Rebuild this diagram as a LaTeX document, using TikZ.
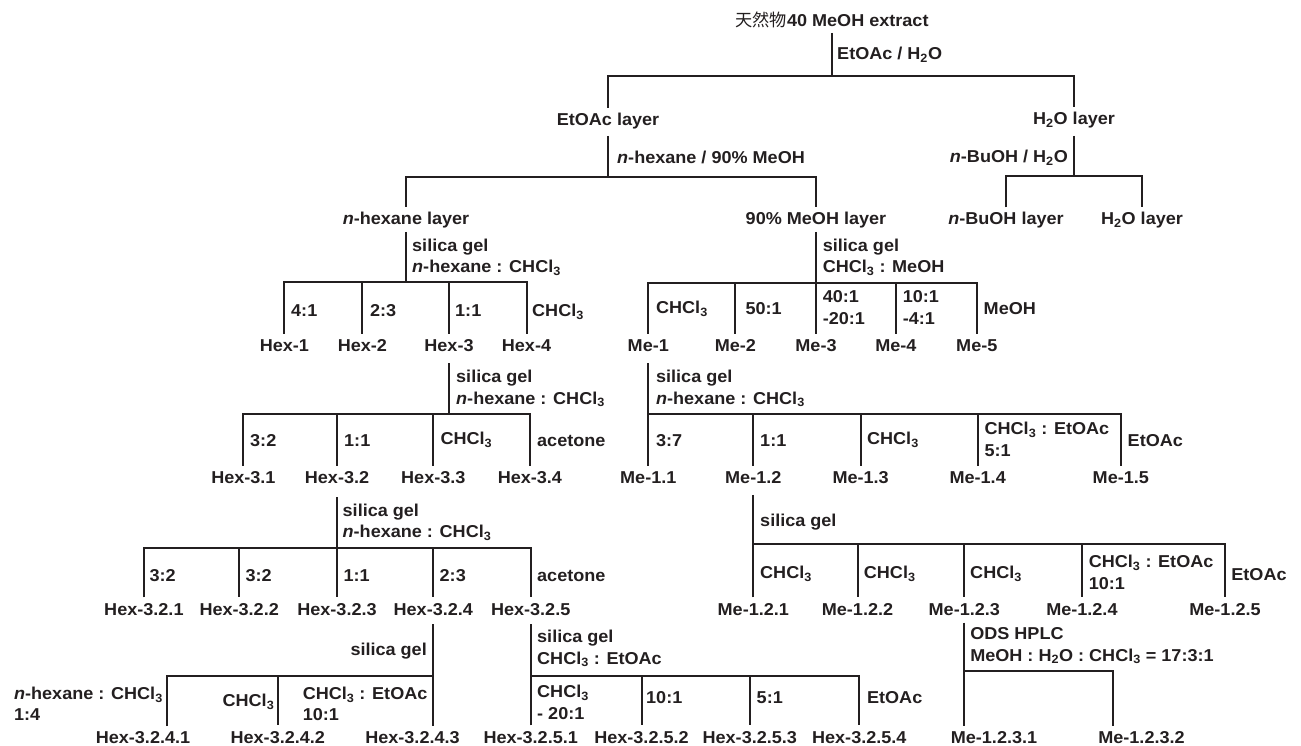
\documentclass[tikz,border=0pt]{standalone}
\usepackage{fontspec}
\setmainfont{Liberation Sans}[FakeStretch=1.05]
\newfontfamily\cjk{Noto Sans CJK SC}
\definecolor{ink}{RGB}{35,31,32}
\begin{document}
\begin{tikzpicture}[x=1pt,y=-1pt,
  txt/.style={font=\fontsize{17.2}{21.5}\selectfont\bfseries, text=ink, inner sep=0pt},
  item/.style={txt, text height=12.5pt, text depth=0pt, anchor=base},
  note/.style={txt, align=left},
  link/.style={draw=ink, line width=2pt, line join=miter},
]
\useasboundingbox (0,0) rectangle (1301,746);

% ---- level 0
\node[item] (T) at (832,26.5) {{\cjk\mdseries 天然物}40 MeOH extract};
\coordinate (s0) at (832,76);
\node[item] (E) at (608,125.5) {EtOAc layer};
\node[item] (W) at (1074,124.5) {H\textsubscript{2}O layer};
\node[note,anchor=base west] (l0) at (837,59.5) {EtOAc / H\textsubscript{2}O};
\draw[link] ([yshift=-6.5pt]T.base) -- (s0);
\draw[link] ([yshift=5pt]E.north) |- (s0) -| ([yshift=5pt]W.north);

% ---- level 1
\coordinate (s1) at (608,177);
\node[item] (NH) at (406,224.5) {\textit{n}-hexane layer};
\node[item] (MM) at (816,224.5) {90\% MeOH layer};
\node[note,anchor=base west] (l1) at (617,163.5) {\textit{n}-hexane / 90\% MeOH};
\draw[link] ([yshift=-10.5pt]E.base) -- (s1);
\draw[link] ([yshift=5pt]NH.north) |- (s1) -| ([yshift=5pt]MM.north);

\coordinate (s2) at (1074,176);
\node[item] (NB) at (1006,225) {\textit{n}-BuOH layer};
\node[item] (HW) at (1142,225) {H\textsubscript{2}O layer};
\node[note,anchor=base east] (l2) at (1068,162.5) {\textit{n}-BuOH / H\textsubscript{2}O};
\draw[link] ([yshift=-11.5pt]W.base) -- (s2);
\draw[link] ([yshift=5pt]NB.north) |- (s2) -| ([yshift=5pt]HW.north);

% ---- hexane layer
\coordinate (s3) at (406,282);
\node[item] (H1) at (284.4,351.5) {Hex-1};
\node[item] (H2) at (362.4,351.5) {Hex-2};
\node[item] (H3) at (449,351.5) {Hex-3};
\node[item] (H4) at (526.5,351.5) {Hex-4};
\node[note,anchor=north west] (l3) at (412,238.5) {silica gel\\\textit{n}-hexane : CHCl\textsubscript{3}};
\draw[link] ([yshift=-7.5pt]NH.base) -- (s3);
\draw[link] ([yshift=5pt]H1.north) |- (s3) -| ([yshift=5pt]H4.north);
\draw[link] (s3) -| ([yshift=5pt]H2.north);
\draw[link] (s3) -| ([yshift=5pt]H3.north);
\node[note,anchor=base west] (r31) at (291,316.5) {4:1};
\node[note,anchor=base west] (r32) at (369.8,316.5) {2:3};
\node[note,anchor=base west] (r33) at (455,316.5) {1:1};
\node[note,anchor=base west] (r34) at (532,316.5) {CHCl\textsubscript{3}};

% ---- 90% MeOH layer
\coordinate (s4) at (816,283);
\node[item] (M1) at (648.3,351.5) {Me-1};
\node[item] (M2) at (735.4,351.5) {Me-2};
\node[item] (M3) at (816,351.5) {Me-3};
\node[item] (M4) at (895.9,351.5) {Me-4};
\node[item] (M5) at (976.8,351.5) {Me-5};
\node[note,anchor=north west] (l4) at (822.6,238.5) {silica gel\\CHCl\textsubscript{3} : MeOH};
\draw[link] ([yshift=-7.5pt]MM.base) -- (s4);
\draw[link] ([yshift=5pt]M1.north) |- (s4) -| ([yshift=5pt]M5.north);
\draw[link] (s4) -| ([yshift=5pt]M2.north);
\draw[link] (s4) -- ([yshift=5pt]M3.north);
\draw[link] (s4) -| ([yshift=5pt]M4.north);
\node[note,anchor=base west] (r41) at (655.9,313.5) {CHCl\textsubscript{3}};
\node[note,anchor=base west] (r42) at (745.3,314.5) {50:1};
\node[note,anchor=north west] (r43) at (822.6,290.5) {40:1\\-20:1};
\node[note,anchor=north west] (r44) at (902.6,290.5) {10:1\\-4:1};
\node[note,anchor=base west] (r45) at (983.5,314.5) {MeOH};

% ---- Hex-3
\coordinate (s5) at (449,413.5);
\node[item] (H31) at (243.4,483.5) {Hex-3.1};
\node[item] (H32) at (337,483.5) {Hex-3.2};
\node[item] (H33) at (433.3,483.5) {Hex-3.3};
\node[item] (H34) at (529.9,483.5) {Hex-3.4};
\node[note,anchor=north west] (l5) at (456,370.2) {silica gel\\\textit{n}-hexane : CHCl\textsubscript{3}};
\draw[link] ([yshift=-11.5pt]H3.base) -- (s5);
\draw[link] ([yshift=5pt]H31.north) |- (s5) -| ([yshift=5pt]H34.north);
\draw[link] (s5) -| ([yshift=5pt]H32.north);
\draw[link] (s5) -| ([yshift=5pt]H33.north);
\node[note,anchor=base west] (r51) at (250,446.5) {3:2};
\node[note,anchor=base west] (r52) at (344,446.5) {1:1};
\node[note,anchor=base west] (r53) at (440.3,444.5) {CHCl\textsubscript{3}};
\node[note,anchor=base west] (r54) at (537,446.5) {acetone};

% ---- Me-1
\coordinate (s6) at (648.3,413.5);
\node[item] (M11) at (648.3,483.5) {Me-1.1};
\node[item] (M12) at (753.3,483.5) {Me-1.2};
\node[item] (M13) at (860.6,483.5) {Me-1.3};
\node[item] (M14) at (977.7,483.5) {Me-1.4};
\node[item] (M15) at (1120.8,483.5) {Me-1.5};
\node[note,anchor=north west] (l6) at (655.9,370.2) {silica gel\\\textit{n}-hexane : CHCl\textsubscript{3}};
\draw[link] ([yshift=-11.5pt]M1.base) -- (s6);
\draw[link] ([yshift=5pt]M11.north) -- (s6) -| ([yshift=5pt]M15.north);
\draw[link] (s6) -| ([yshift=5pt]M12.north);
\draw[link] (s6) -| ([yshift=5pt]M13.north);
\draw[link] (s6) -| ([yshift=5pt]M14.north);
\node[note,anchor=base west] (r61) at (655.9,446.5) {3:7};
\node[note,anchor=base west] (r62) at (760,446.5) {1:1};
\node[note,anchor=base west] (r63) at (866.9,444.5) {CHCl\textsubscript{3}};
\node[note,anchor=north west] (r64) at (984.4,422.2) {CHCl\textsubscript{3} : EtOAc\\5:1};
\node[note,anchor=base west] (r65) at (1127.5,446.5) {EtOAc};

% ---- Hex-3.2
\coordinate (s7) at (337,548.3);
\node[item] (H321) at (143.9,615) {Hex-3.2.1};
\node[item] (H322) at (239.2,615) {Hex-3.2.2};
\node[item] (H323) at (337,615) {Hex-3.2.3};
\node[item] (H324) at (433.3,615) {Hex-3.2.4};
\node[item] (H325) at (530.7,615) {Hex-3.2.5};
\node[note,anchor=north west] (l7) at (342.5,503.5) {silica gel\\\textit{n}-hexane : CHCl\textsubscript{3}};
\draw[link] ([yshift=-13.5pt]H32.base) -- (s7);
\draw[link] ([yshift=5pt]H321.north) |- (s7) -| ([yshift=5pt]H325.north);
\draw[link] (s7) -| ([yshift=5pt]H322.north);
\draw[link] (s7) -- ([yshift=5pt]H323.north);
\draw[link] (s7) -| ([yshift=5pt]H324.north);
\node[note,anchor=base west] (r71) at (149.3,581.5) {3:2};
\node[note,anchor=base west] (r72) at (245.4,581.5) {3:2};
\node[note,anchor=base west] (r73) at (343.3,581.5) {1:1};
\node[note,anchor=base west] (r74) at (439.5,581.5) {2:3};
\node[note,anchor=base west] (r75) at (537,581.5) {acetone};

% ---- Me-1.2
\coordinate (s8) at (753.3,544.3);
\node[item] (M121) at (753.3,615) {Me-1.2.1};
\node[item] (M122) at (857.5,615) {Me-1.2.2};
\node[item] (M123) at (964.3,615) {Me-1.2.3};
\node[item] (M124) at (1081.9,615) {Me-1.2.4};
\node[item] (M125) at (1225,615) {Me-1.2.5};
\node[note,anchor=base west] (l8) at (760,526.5) {silica gel};
\draw[link] ([yshift=-11.3pt]M12.base) -- (s8);
\draw[link] ([yshift=5pt]M121.north) -- (s8) -| ([yshift=5pt]M125.north);
\draw[link] (s8) -| ([yshift=5pt]M122.north);
\draw[link] (s8) -| ([yshift=5pt]M123.north);
\draw[link] (s8) -| ([yshift=5pt]M124.north);
\node[note,anchor=base west] (r81) at (760,578.5) {CHCl\textsubscript{3}};
\node[note,anchor=base west] (r82) at (863.7,578.5) {CHCl\textsubscript{3}};
\node[note,anchor=base west] (r83) at (970,578.5) {CHCl\textsubscript{3}};
\node[note,anchor=north west] (r84) at (1088.6,554.9) {CHCl\textsubscript{3} : EtOAc\\10:1};
\node[note,anchor=base west] (r85) at (1231.2,580.5) {EtOAc};

% ---- Hex-3.2.4
\coordinate (s9) at (433.3,675.5);
\coordinate (e9a) at (166.7,726);
\coordinate (e9c) at (433.3,726);
\node[item] (H3241) at (143,743) {Hex-3.2.4.1};
\node[item] (H3242) at (277.8,743) {Hex-3.2.4.2};
\node[item] (H3243) at (412.5,743) {Hex-3.2.4.3};
\node[note,anchor=base east] (l9) at (427,655.8) {silica gel};
\draw[link] ([yshift=-9pt]H324.base) -- (e9c);
\draw[link] (e9a) |- (s9);
\draw[link] (s9) -| ([yshift=5pt]H3242.north);
\node[note,anchor=north east] (r91) at (163,686.8) {\textit{n}-hexane : CHCl\textsubscript{3}\\1:4};
\node[note,anchor=base east] (r92) at (274.5,706.5) {CHCl\textsubscript{3}};
\node[note,anchor=north west] (r93) at (302.6,686.8) {CHCl\textsubscript{3} : EtOAc\\10:1};

% ---- Hex-3.2.5
\coordinate (s10) at (530.7,675.5);
\node[item] (H3251) at (530.7,743) {Hex-3.2.5.1};
\node[item] (H3252) at (641.5,743) {Hex-3.2.5.2};
\node[item] (H3253) at (749.8,743) {Hex-3.2.5.3};
\node[item] (H3254) at (859.3,743) {Hex-3.2.5.4};
\node[note,anchor=north west] (l10) at (537,630.2) {silica gel\\CHCl\textsubscript{3} : EtOAc};
\draw[link] ([yshift=-9pt]H325.base) -- (s10);
\draw[link] ([yshift=5pt]H3251.north) -- (s10) -| ([yshift=5pt]H3254.north);
\draw[link] (s10) -| ([yshift=5pt]H3252.north);
\draw[link] (s10) -| ([yshift=5pt]H3253.north);
\node[note,anchor=north west] (r101) at (537,685.2) {CHCl\textsubscript{3}\\- 20:1};
\node[note,anchor=base west] (r102) at (646,703.5) {10:1};
\node[note,anchor=base west] (r103) at (756.5,703.5) {5:1};
\node[note,anchor=base west] (r104) at (866.9,703.5) {EtOAc};

% ---- Me-1.2.3
\coordinate (s11) at (964.3,671.3);
\coordinate (e11a) at (964.3,726);
\coordinate (e11b) at (1113.2,726);
\node[item] (M1231) at (994,743) {Me-1.2.3.1};
\node[item] (M1232) at (1141.5,743) {Me-1.2.3.2};
\node[note,anchor=north west] (l11) at (970.1,627.5) {ODS HPLC\\MeOH : H\textsubscript{2}O : CHCl\textsubscript{3} = 17:3:1};
\draw[link] ([yshift=-7.5pt]M123.base) -- (e11a);
\draw[link] (s11) -| (e11b);
\end{tikzpicture}
\end{document}
